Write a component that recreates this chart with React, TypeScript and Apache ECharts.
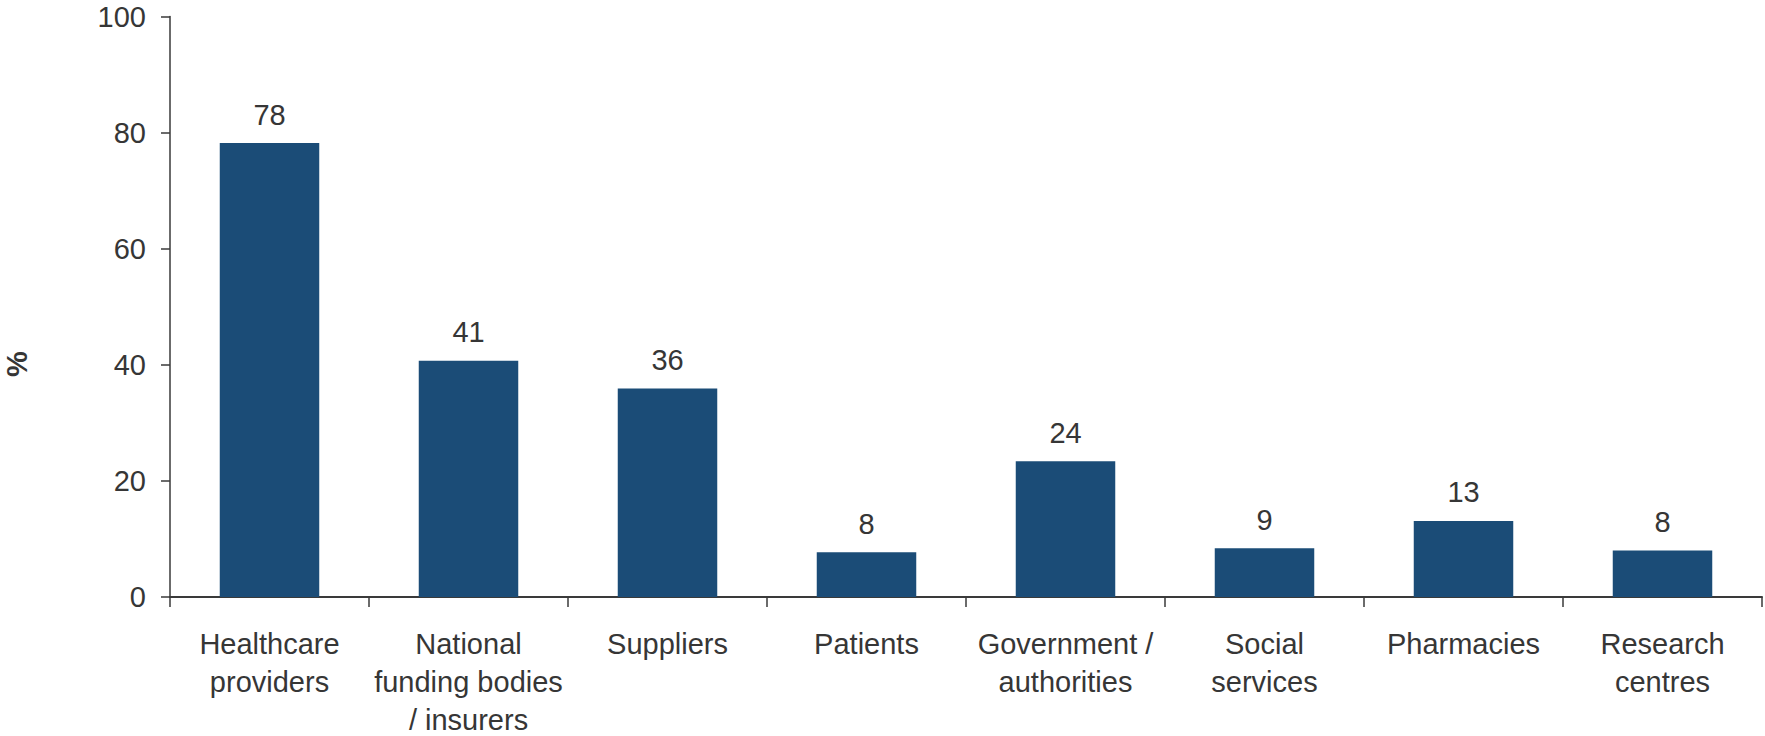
import React, { useEffect, useRef } from "react";
import * as echarts from "echarts";

const categories = [
  "Healthcare\nproviders",
  "National\nfunding bodies\n/ insurers",
  "Suppliers",
  "Patients",
  "Government /\nauthorities",
  "Social\nservices",
  "Pharmacies",
  "Research\ncentres",
];
const values = [78.2, 40.7, 35.9, 7.7, 23.4, 8.4, 13.1, 8.0];
const labels = ["78", "41", "36", "8", "24", "9", "13", "8"];
const yTicks = { min: 0, max: 100, interval: 20 };
const yTitle = "%";

const FONT = "'Liberation Sans', Arial, Helvetica, sans-serif";
const TEXT = "#363636";
const AXIS = "#3a3a3a";

export default function App() {
  const ref = useRef<HTMLDivElement>(null);
  useEffect(() => {
    if (!ref.current) return;
    const chart = echarts.init(ref.current, undefined, { renderer: "svg" });
    chart.setOption({
      animation: false,
      backgroundColor: "#ffffff",
      textStyle: { fontFamily: FONT },
      grid: {
        left: 170,
        right: 3,
        top: 16.5,
        bottom: 139,
        containLabel: false,
        outerBoundsMode: "none",
      },
      graphic: [
        {
          type: "text",
          x: 17,
          y: 364,
          rotation: Math.PI / 2,
          style: {
            text: yTitle,
            fontSize: 29,
            fontWeight: "bold",
            fill: TEXT,
            fontFamily: FONT,
            align: "center",
            verticalAlign: "middle",
          },
        },
      ],
      xAxis: {
        type: "category",
        data: categories,
        boundaryGap: true,
        axisLine: { show: true, lineStyle: { color: AXIS, width: 2 } },
        axisTick: { show: true, alignWithLabel: false, length: 10, inside: false, lineStyle: { color: AXIS, width: 1.5 } },
        axisLabel: {
          interval: 0,
          margin: 28,
          fontSize: 29,
          lineHeight: 38,
          color: TEXT,
          fontFamily: FONT,
        },
        splitLine: { show: false },
      },
      yAxis: {
        type: "value",
        min: yTicks.min,
        max: yTicks.max,
        interval: yTicks.interval,
        axisLine: { show: true, lineStyle: { color: AXIS, width: 1.5 } },
        axisTick: { show: true, length: 9, lineStyle: { color: AXIS, width: 1.5 } },
        axisLabel: { margin: 24, fontSize: 29, color: TEXT, fontFamily: FONT },
        splitLine: { show: false },
      },
      series: [
        {
          type: "bar",
          data: values,
          barWidth: "50%",
          itemStyle: { color: "#1b4c77" },
          label: {
            show: true,
            position: "top",
            distance: 14,
            fontSize: 29,
            color: TEXT,
            fontFamily: FONT,
            formatter: (p: any) => labels[p.dataIndex],
          },
        },
      ],
    });
    return () => chart.dispose();
  }, []);
  return (
    <div
      ref={ref}
      style={{ position: "absolute", left: 0, top: 0, width: 1765, height: 736 }}
    />
  );
}
